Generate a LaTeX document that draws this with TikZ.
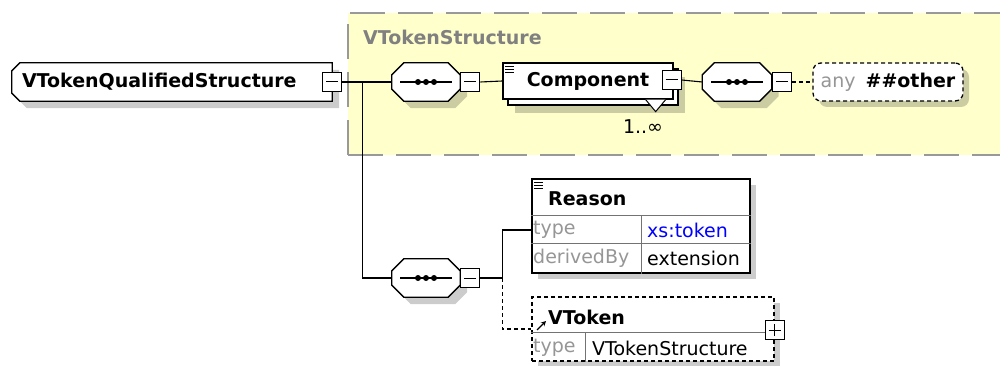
\documentclass[tikz,border=0pt]{standalone}
\usepackage{fontspec}
\setmainfont{DejaVu Sans}
\usetikzlibrary{calc,shadows,arrows.meta}
\definecolor{groupfill}{RGB}{255,255,204}
\definecolor{groupline}{RGB}{153,153,153}
\definecolor{grouptext}{RGB}{128,128,128}
\definecolor{keygray}{RGB}{150,150,150}
\definecolor{typeblue}{RGB}{0,0,255}
\newcommand{\dfont}{\fontsize{19}{22}\selectfont}
\newcommand{\docicon}[1]{\foreach \k in {0,1,2}
	\draw[line width=0.9pt] ($(#1.north west)+(3,4+3*\k)$) -- ++(9,0);}
% outline with cut corners: node, left cut, right cut
\newcommand{\cutbox}[3]{%
	\path[frame,dropgray] ($(#1.north west)+(#2,0)$) -- ($(#1.north east)+(-#3,0)$) -- ($(#1.north east)+(0,#3)$)
		-- ($(#1.south east)+(0,-#3)$) -- ($(#1.south east)+(-#3,0)$) -- ($(#1.south west)+(#2,0)$)
		-- ($(#1.south west)+(0,-#2)$) -- ($(#1.north west)+(0,#2)$) -- cycle;}
\newcommand{\seqmark}[1]{%
	\draw[line width=1.2pt] ($(#1.center)+(-26,0)$) -- ($(#1.center)+(26,0)$);
	\foreach \d in {-8,0,8}
		\fill ($(#1.center)+(\d,0)$) circle (3pt);}
\tikzset{
	dropgray/.style={general shadow={fill=black,opacity=0.2,shadow xshift=#1,shadow yshift=-#1}},
	dropgray/.default=7pt,
	frame/.style={draw,fill=white,line width=1.3pt,inner sep=0pt},
	vframe/.style={frame,dash pattern=on 4pt off 3pt},
	place/.style={inner sep=0pt,minimum height=38pt},
	ctrl/.style={draw,fill=white,line width=1.1pt,minimum size=19pt,inner sep=0pt,
		path picture={\draw[line width=1pt] ([xshift=-6pt]path picture bounding box.center) -- ([xshift=6pt]path picture bounding box.center);}},
	ctrlplus/.style={draw,fill=white,line width=1.1pt,minimum size=19pt,inner sep=0pt,
		path picture={\draw[line width=1pt] ([xshift=-6pt]path picture bounding box.center) -- ([xshift=6pt]path picture bounding box.center);
			\draw[line width=1pt] ([yshift=-6pt]path picture bounding box.center) -- ([yshift=6pt]path picture bounding box.center);}},
	lbl/.style={inner sep=0pt,font=\dfont\bfseries},
	txt/.style={inner sep=0pt,font=\dfont},
	wire/.style={line width=1.1pt},
	cellline/.style={black!55,line width=0.9pt}
}

\begin{document}
\begin{tikzpicture}[x=1pt,y=-1pt]
\useasboundingbox (0,0) rectangle (1000,366);
% group of the base type
\fill[groupfill] (348,13) rectangle (1010,155);
\draw[groupline,line width=2pt,dash pattern=on 35pt off 13pt] (348,155) -- (348,13) -- (1010,13);
\draw[groupline,line width=2pt,dash pattern=on 35pt off 13pt] (348,155) -- (1010,155);
\node[lbl,anchor=west,text=grouptext] (grouplbl) at (363,37) {VTokenStructure};
%
\node[place,minimum width=320pt] (root) at (172,82) {};
\cutbox{root}{8}{0}
\node[lbl,anchor=west] (rootlbl) at ([xshift=10pt]root.west) {VTokenQualifiedStructure};
\node[ctrl] (rootctrl) at (root.east) {};
%
\node[place,minimum width=68pt] (seqA) at (426,82) {};
\cutbox{seqA}{12}{12}
\seqmark{seqA}
\node[ctrl,anchor=west] (seqActrl) at (seqA.east) {};
\node[frame,minimum width=170pt,minimum height=36pt,font=\dfont\bfseries,
	general shadow={fill=black,opacity=0.2,shadow xshift=12pt,shadow yshift=-14pt},
	general shadow={draw=black,fill=white,line width=1.3pt,shadow xshift=5pt,shadow yshift=-6pt}] (comp) at (588,81) {Component};
\docicon{comp}
\draw[fill=white,line width=1pt] ([xshift=-28pt]comp.south east) -- ([xshift=-18pt,yshift=-12pt]comp.south east) -- ([xshift=-8pt]comp.south east);
\node[ctrl] (compctrl) at ([xshift=-2pt,yshift=1pt]comp.east) {};
\node[txt] (compocc) at (643,127) {1..∞};
\node[place,minimum width=69pt] (seqB) at (737,82) {};
\cutbox{seqB}{12}{12}
\seqmark{seqB}
\node[ctrl,anchor=west] (seqBctrl) at (seqB.east) {};
\node[vframe,rounded corners=8pt,minimum width=150pt,minimum height=38pt,font=\dfont,dropgray=6pt] (any) at (888,82)
	{\textcolor{keygray}{any}\hspace{10pt}\textbf{\#\#other}};
%
\node[place,minimum width=68pt] (seqC) at (426,278) {};
\cutbox{seqC}{12}{12}
\seqmark{seqC}
\node[ctrl,anchor=west] (seqCctrl) at (seqC.east) {};
%
\node[frame,minimum width=218pt,minimum height=94pt,dropgray=6pt] (reason) at (641,226) {};
\docicon{reason}
\node[lbl,anchor=west] (reasonlbl) at (548,199) {Reason};
\draw[cellline] ($(reason.north west)+(0,37)$) -- ($(reason.north east)+(0,37)$);
\draw[cellline] ($(reason.north west)+(0,65)$) -- ($(reason.north east)+(0,65)$);
\draw[cellline] ($(reason.north west)+(110,37)$) -- ($(reason.south west)+(110,0)$);
\node[txt,anchor=west,text=keygray] (rtypek) at (533,230) {type};
\node[txt,anchor=west,text=typeblue] (rtypev) at (647,230) {xs:token};
\node[txt,anchor=west,text=keygray] (rderk) at (533,258) {derivedBy};
\node[txt,anchor=west] (rderv) at (647,258) {extension};
%
\node[vframe,minimum width=242pt,minimum height=64pt,dropgray=6pt] (vtoken) at (653,329) {};
\draw[cellline] ($(vtoken.north west)+(0,36)$) -- ($(vtoken.north east)+(0,36)$);
\draw[cellline] ($(vtoken.north west)+(54,36)$) -- ($(vtoken.south west)+(54,0)$);
\node[ctrlplus] (vtokenctrl) at ([yshift=-1pt]vtoken.east) {};
\draw[line width=1.2pt,-{Stealth[length=5pt,width=5pt]}] (537,330) -- (546,321);
\node[lbl,anchor=west] (vtokenlbl) at (548,317) {VToken};
\node[txt,anchor=west,text=keygray] (vtypek) at (533,348) {type};
\node[txt,anchor=west] (vtypev) at (592,348) {VTokenStructure};
%
\coordinate (forkA) at ($(rootctrl.east)+(20,0)$);
\coordinate (forkC) at ($(seqCctrl.east)+(22,0)$);
\draw[wire] (rootctrl.east) -- (seqA.west);
\draw[wire] (forkA) |- (seqC.west);
\draw[wire] (seqActrl.east) -- (comp.west);
\draw[wire] (compctrl.east) -- (seqB.west);
\draw[wire,dash pattern=on 4pt off 3pt] (seqBctrl.east) -- (any.west);
\draw[wire] (seqCctrl.east) -- (forkC) |- (rtypek.west);
\draw[wire,dash pattern=on 4pt off 3pt] (forkC) |- (vtoken.west);
\end{tikzpicture}
\end{document}
